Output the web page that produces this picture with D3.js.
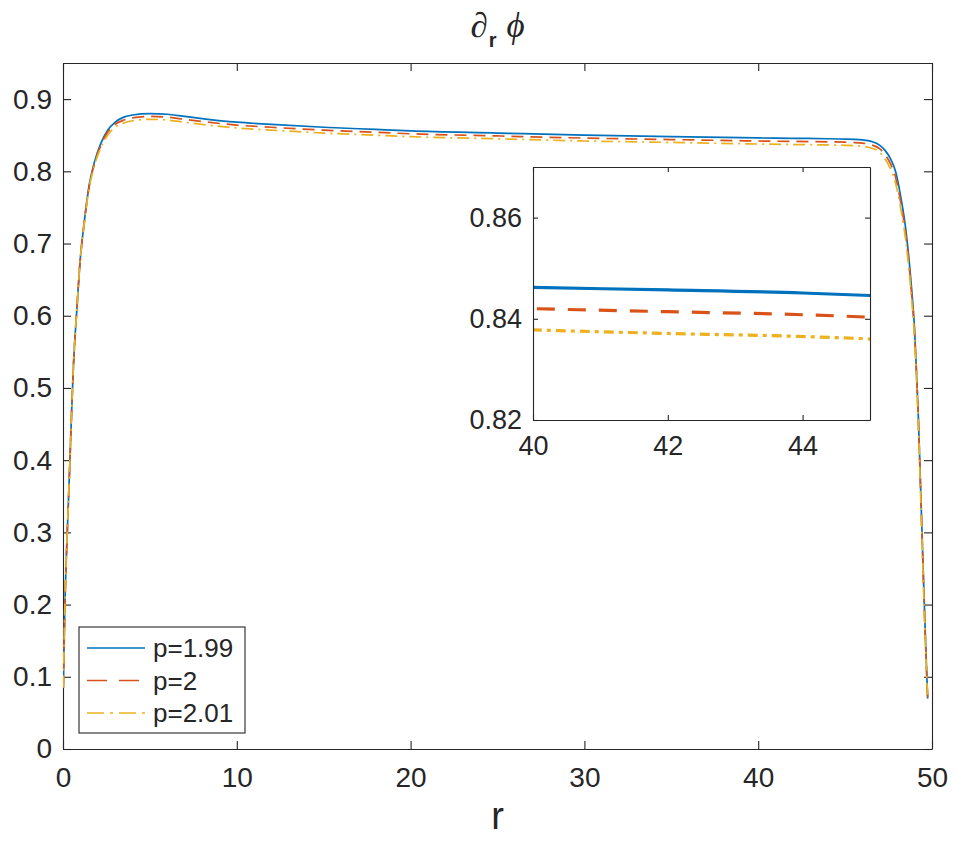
<!DOCTYPE html>
<html>
<head>
<meta charset="utf-8">
<script src="https://cdn.jsdelivr.net/npm/d3@7"></script>
<style>
	body { margin: 0; background: #fff; }
	svg text { font-family: "Liberation Sans", Arial, Helvetica, sans-serif; fill: #262626; }
</style>
</head>
<body>
<script>
//data
const rValues = [0.02, 0.1, 0.2, 0.3, 0.4, 0.5, 0.6, 0.8, 1.0, 1.2, 1.5, 1.8, 2.2, 2.6, 3.0, 3.5, 4, 5, 6, 7, 8, 10, 12, 15, 18, 20, 25, 30, 35, 40, 42, 44, 45, 45.5, 46, 46.5, 47, 47.3, 47.6, 47.9, 48.2, 48.5, 48.8, 49.0, 49.2, 49.4, 49.6, 49.75];
const p199Values = [0.085, 0.19, 0.27, 0.335, 0.40, 0.47, 0.53, 0.61, 0.68, 0.725, 0.78, 0.812, 0.840, 0.858, 0.868, 0.875, 0.878, 0.880, 0.879, 0.876, 0.873, 0.868, 0.865, 0.861, 0.858, 0.856, 0.853, 0.850, 0.848, 0.8462, 0.8457, 0.8451, 0.8446, 0.8443, 0.8435, 0.8415, 0.836, 0.829, 0.818, 0.800, 0.765, 0.718, 0.645, 0.58, 0.47, 0.32, 0.17, 0.07];
const p2Values = [0.085, 0.19, 0.27, 0.335, 0.40, 0.47, 0.53, 0.61, 0.68, 0.724, 0.778, 0.810, 0.837, 0.855, 0.865, 0.871, 0.874, 0.876, 0.875, 0.872, 0.869, 0.864, 0.861, 0.857, 0.854, 0.852, 0.849, 0.846, 0.844, 0.8420, 0.8414, 0.8408, 0.8403, 0.8399, 0.8390, 0.8368, 0.831, 0.823, 0.811, 0.792, 0.757, 0.710, 0.638, 0.573, 0.465, 0.315, 0.165, 0.07];
const p201Values = [0.085, 0.19, 0.27, 0.335, 0.40, 0.47, 0.53, 0.61, 0.68, 0.723, 0.776, 0.807, 0.834, 0.851, 0.861, 0.867, 0.870, 0.872, 0.871, 0.868, 0.865, 0.860, 0.857, 0.853, 0.850, 0.848, 0.845, 0.842, 0.840, 0.8378, 0.8371, 0.8365, 0.8360, 0.8356, 0.8346, 0.8322, 0.826, 0.817, 0.804, 0.784, 0.749, 0.702, 0.631, 0.566, 0.458, 0.31, 0.16, 0.068];
const seriesNames = ['p=1.99', 'p=2', 'p=2.01'];

const xTicks = [0, 10, 20, 30, 40, 50];
const xTickLabels = ['0', '10', '20', '30', '40', '50'];
const yTicks = [0, 0.1, 0.2, 0.3, 0.4, 0.5, 0.6, 0.7, 0.8, 0.9];
const yTickLabels = ['0', '0.1', '0.2', '0.3', '0.4', '0.5', '0.6', '0.7', '0.8', '0.9'];
const insetXTicks = [40, 42, 44];
const insetXTickLabels = ['40', '42', '44'];
const insetYTicks = [0.82, 0.84, 0.86];
const insetYTickLabels = ['0.82', '0.84', '0.86'];

//styles
const colors = ['#0072BD', '#D95319', '#EDB120'];
const mainDash = [null, '12 7', '12 5 2 5'];
const insetDash = [null, '18 13', '10 5 4 5'];
const legendDash = [null, '20 12', '17 6 3 6'];
const axisColor = '#262626';

const width = 961, height = 845;
const allSeries = [p199Values, p2Values, p201Values].map((vals) =>
	rValues.map((r, i) => ({ r: r, v: vals[i] })));

//create svg element
const svg = d3.select('body')
	.append('svg')
	.attr('width', width)
	.attr('height', height);

//main axes area
const plot = { left: 63, top: 63, right: 932, bottom: 749 };
const x = d3.scaleLinear().domain([0, 50]).range([plot.left, plot.right]);
const y = d3.scaleLinear().domain([0, 0.95]).range([plot.bottom, plot.top]);

svg.append('clipPath').attr('id', 'clipMain')
	.append('rect')
	.attr('x', plot.left).attr('y', plot.top)
	.attr('width', plot.right - plot.left).attr('height', plot.bottom - plot.top);

const styleAxis = (g) => {
	g.selectAll('path, line').attr('stroke', axisColor).attr('stroke-width', 1.1);
	g.selectAll('text').attr('fill', axisColor);
};

//axes with inward ticks
svg.append('g')
	.attr('transform', `translate(0,${plot.bottom})`)
	.call(d3.axisBottom(x).tickValues(xTicks).tickFormat((d, i) => xTickLabels[i]).tickSizeInner(-8).tickSizeOuter(0).tickPadding(18))
	.call(styleAxis)
	.selectAll('text').style('font-size', '28px');
svg.append('g')
	.attr('transform', `translate(${plot.left},0)`)
	.call(d3.axisLeft(y).tickValues(yTicks).tickFormat((d, i) => yTickLabels[i]).tickSizeInner(-8).tickSizeOuter(0).tickPadding(11))
	.call(styleAxis)
	.selectAll('text').style('font-size', '28px');
svg.append('g')
	.attr('transform', `translate(0,${plot.top})`)
	.call(d3.axisTop(x).tickValues(xTicks).tickFormat('').tickSizeInner(-8).tickSizeOuter(0))
	.call(styleAxis);
svg.append('g')
	.attr('transform', `translate(${plot.right},0)`)
	.call(d3.axisRight(y).tickValues(yTicks).tickFormat('').tickSizeInner(-8).tickSizeOuter(0))
	.call(styleAxis);

//lines
const line = d3.line()
	.x((d) => x(d.r))
	.y((d) => y(d.v))
	.curve(d3.curveMonotoneX);

svg.append('g')
	.attr('clip-path', 'url(#clipMain)')
	.selectAll('path')
	.data(allSeries)
	.enter()
	.append('path')
	.attr('d', line)
	.attr('fill', 'none')
	.attr('stroke', (d, i) => colors[i])
	.attr('stroke-width', 1.7)
	.attr('stroke-dasharray', (d, i) => mainDash[i]);

//title and label
const title = svg.append('text')
	.attr('x', (plot.left + plot.right) / 2)
	.attr('y', 37)
	.attr('text-anchor', 'middle')
	.style('font-family', '"Liberation Serif", "DejaVu Serif", serif')
	.style('font-size', '35px')
	.style('font-style', 'italic');
title.append('tspan').text('\u2202');
title.append('tspan').attr('dy', 10).attr('dx', 1).style('font-size', '20px').style('font-weight', 'bold').style('font-style', 'normal')
	.style('font-family', '"Liberation Sans", Arial, sans-serif').text('r');
title.append('tspan').attr('dy', -10).attr('dx', 10).text('\u03D5');

svg.append('text')
	.attr('x', (plot.left + plot.right) / 2)
	.attr('y', 829)
	.attr('text-anchor', 'middle')
	.style('font-size', '38px')
	.text('r');

//inset
const inset = { left: 533, top: 167, right: 870, bottom: 420 };
const xi = d3.scaleLinear().domain([40, 45]).range([inset.left, inset.right]);
const yi = d3.scaleLinear().domain([0.82, 0.87]).range([inset.bottom, inset.top]);

svg.append('rect')
	.attr('x', inset.left).attr('y', inset.top)
	.attr('width', inset.right - inset.left).attr('height', inset.bottom - inset.top)
	.attr('fill', '#fff');
svg.append('clipPath').attr('id', 'clipInset')
	.append('rect')
	.attr('x', inset.left).attr('y', inset.top)
	.attr('width', inset.right - inset.left).attr('height', inset.bottom - inset.top);

const lineInset = d3.line()
	.x((d) => xi(d.r))
	.y((d) => yi(d.v))
	.curve(d3.curveMonotoneX);

svg.append('g')
	.attr('clip-path', 'url(#clipInset)')
	.selectAll('path')
	.data(allSeries.map((s) => s.filter((d) => d.r >= 35 && d.r <= 46)))
	.enter()
	.append('path')
	.attr('d', lineInset)
	.attr('fill', 'none')
	.attr('stroke', (d, i) => colors[i])
	.attr('stroke-width', 3.2)
	.attr('stroke-dasharray', (d, i) => insetDash[i]);

svg.append('g')
	.attr('transform', `translate(0,${inset.bottom})`)
	.call(d3.axisBottom(xi).tickValues(insetXTicks).tickFormat((d, i) => insetXTickLabels[i]).tickSizeInner(-5).tickSizeOuter(0).tickPadding(16))
	.call(styleAxis)
	.selectAll('text').style('font-size', '27px');
svg.append('g')
	.attr('transform', `translate(${inset.left},0)`)
	.call(d3.axisLeft(yi).tickValues(insetYTicks).tickFormat((d, i) => insetYTickLabels[i]).tickSizeInner(-5).tickSizeOuter(0).tickPadding(11))
	.call(styleAxis)
	.selectAll('text').style('font-size', '27px');
svg.append('g')
	.attr('transform', `translate(0,${inset.top})`)
	.call(d3.axisTop(xi).tickValues(insetXTicks).tickFormat('').tickSizeInner(-5).tickSizeOuter(0))
	.call(styleAxis);
svg.append('g')
	.attr('transform', `translate(${inset.right},0)`)
	.call(d3.axisRight(yi).tickValues(insetYTicks).tickFormat('').tickSizeInner(-5).tickSizeOuter(0))
	.call(styleAxis);

//legend
const legend = svg.append('g');
legend.append('rect')
	.attr('x', 79).attr('y', 627)
	.attr('width', 166).attr('height', 106)
	.attr('fill', '#fff')
	.attr('stroke', axisColor)
	.attr('stroke-width', 1.1);
const rows = legend.selectAll('g.row')
	.data(seriesNames)
	.enter()
	.append('g')
	.attr('class', 'row')
	.attr('transform', (d, i) => `translate(0,${648 + i * 32.5})`);
rows.append('line')
	.attr('x1', 87).attr('x2', 145)
	.attr('stroke', (d, i) => colors[i])
	.attr('stroke-width', 1.7)
	.attr('stroke-dasharray', (d, i) => legendDash[i]);
rows.append('text')
	.attr('x', 153)
	.attr('dy', '0.36em')
	.style('font-size', '26px')
	.text((d) => d);
</script>
</body>
</html>
